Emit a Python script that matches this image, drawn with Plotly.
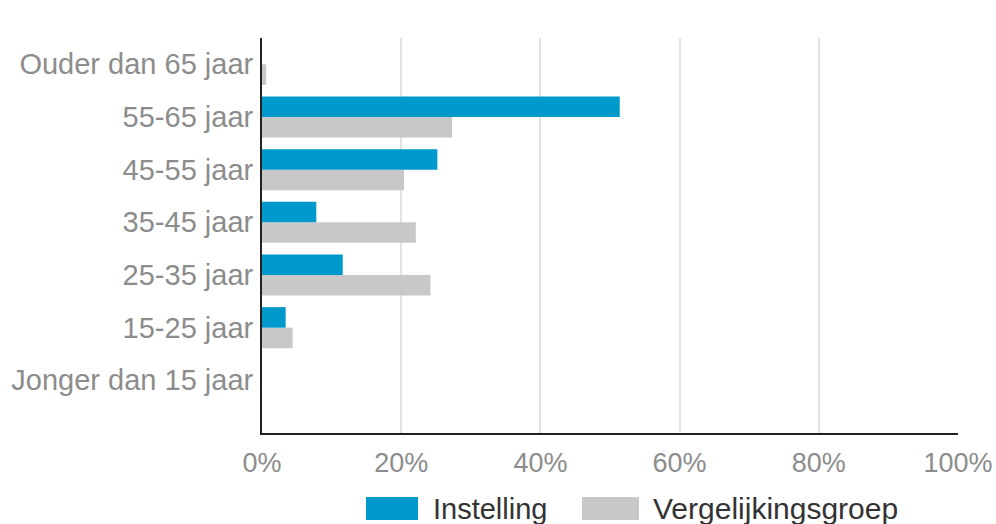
import plotly.graph_objects as go

categories = ["Jonger dan 15 jaar", "15-25 jaar", "25-35 jaar", "35-45 jaar",
              "45-55 jaar", "55-65 jaar", "Ouder dan 65 jaar"]
instelling = [0.0, 3.4, 11.6, 7.8, 25.2, 51.4, 0.0]
vergelijkingsgroep = [0.0, 4.4, 24.2, 22.1, 20.4, 27.3, 0.6]
x_ticks = [0, 20, 40, 60, 80, 100]
x_tick_labels = ["0%", "20%", "40%", "60%", "80%", "100%"]

BLUE = "#0099cc"
GREY = "#c8c8c8"
FONT = "Liberation Sans, Arial, sans-serif"

fig = go.Figure()
# first trace is drawn lower in each group for horizontal bars
fig.add_trace(go.Bar(y=categories, x=vergelijkingsgroep, orientation="h",
                     name="Vergelijkingsgroep", marker=dict(color=GREY, line=dict(width=0))))
fig.add_trace(go.Bar(y=categories, x=instelling, orientation="h",
                     name="Instelling", marker=dict(color=BLUE, line=dict(width=0))))

fig.update_layout(
    width=996, height=524,
    margin=dict(l=262, r=38, t=38, b=91),
    paper_bgcolor="white", plot_bgcolor="white",
    barmode="group", bargap=0.22, bargroupgap=0,
    showlegend=False,
    font=dict(family=FONT, size=28, color="#8c8c8c"),
    xaxis=dict(range=[0, 100], tickvals=x_ticks, ticktext=x_tick_labels,
               showgrid=True, gridcolor="#e2e2e2", gridwidth=1.5,
               showline=True, linecolor="#222222", linewidth=2,
               zeroline=False, ticks="outside", ticklen=5, tickcolor="rgba(0,0,0,0)",
               automargin=False,
               tickfont=dict(size=27, color="#8c8c8c")),
    yaxis=dict(type="category", categoryorder="array", categoryarray=categories,
               range=[-1, 6.5], showgrid=False,
               showline=True, linecolor="#222222", linewidth=2,
               ticks="outside", ticklen=1, tickcolor="rgba(0,0,0,0)",
               automargin=False,
               tickfont=dict(size=29, color="#8c8c8c")),
)

# custom legend (large swatches as in the reference)
fig.add_shape(type="rect", xref="paper", yref="paper",
              x0=(366 - 262) / 696, x1=(418 - 262) / 696,
              y0=(433 - 520) / 395, y1=(433 - 497) / 395,
              fillcolor=BLUE, line=dict(width=0))
fig.add_shape(type="rect", xref="paper", yref="paper",
              x0=(582 - 262) / 696, x1=(639 - 262) / 696,
              y0=(433 - 520) / 395, y1=(433 - 497) / 395,
              fillcolor=GREY, line=dict(width=0))
fig.add_annotation(text="Instelling", xref="paper", yref="paper",
                   x=(431 - 262) / 696, y=(433 - 509) / 395,
                   xanchor="left", yanchor="middle", showarrow=False,
                   font=dict(family=FONT, size=29, color="#333333"))
fig.add_annotation(text="Vergelijkingsgroep", xref="paper", yref="paper",
                   x=(651 - 262) / 696, y=(433 - 509) / 395,
                   xanchor="left", yanchor="middle", showarrow=False,
                   font=dict(family=FONT, size=30, color="#333333"))

fig.write_html("out.html", config={"displayModeBar": False},
               post_script="document.body.style.margin='0';document.body.style.overflow='hidden';")
